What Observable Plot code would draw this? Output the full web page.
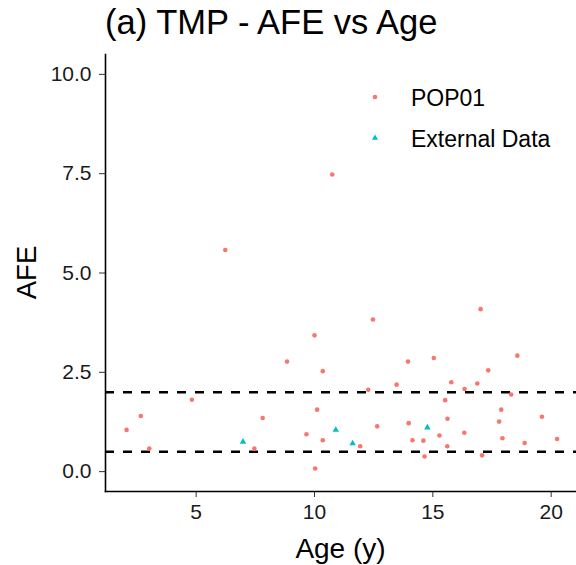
<!DOCTYPE html>
<html>
<head>
<meta charset="utf-8">
<script src="https://cdn.jsdelivr.net/npm/d3@7"></script>
<script src="https://cdn.jsdelivr.net/npm/@observablehq/plot@0.6"></script>
<style>
  html, body { margin: 0; padding: 0; background: white; }
  #chart { position: relative; width: 576px; height: 565px; }
</style>
</head>
<body>
<div id="chart"></div>
<script>
// ---- data ----
const popAge = [2.06, 2.66, 3.02, 4.82, 6.23, 7.46, 7.81, 8.84, 9.66, 10.00, 10.03, 10.11, 10.35, 10.35, 10.75,
  11.93, 12.27, 12.47, 12.65, 13.47, 13.95, 13.98, 14.14, 14.60, 14.65, 15.04, 15.28, 15.52, 15.61, 15.62,
  15.78, 16.33, 16.34, 16.88, 17.02, 17.08, 17.34, 17.80, 17.89, 17.94, 18.31, 18.57, 18.88, 19.61, 20.25];
const popAFE = [1.05, 1.40, 0.58, 1.81, 5.58, 0.58, 1.35, 2.77, 0.94, 3.43, 0.08, 1.56, 2.53, 0.79, 7.48,
  0.64, 2.06, 3.83, 1.14, 2.19, 2.77, 1.22, 0.79, 0.78, 0.38, 2.86, 0.91, 1.80, 0.64, 1.33,
  2.25, 0.98, 2.08, 2.22, 4.09, 0.41, 2.55, 1.26, 1.56, 0.84, 1.94, 2.92, 0.72, 1.38, 0.82];
const extAge = [6.98, 10.90, 11.61, 14.77];
const extAFE = [0.75, 1.05, 0.71, 1.11];
const groups = ["POP01", "External Data"];
const groupColors = ["#F8766D", "#00BFC4"];
const groupSymbols = ["circle", "triangle"];
const xTicks = [5, 10, 15, 20];
const yTicks = [0, 2.5, 5, 7.5, 10];
const refLines = [0.5, 2];
const titleText = "(a) TMP - AFE vs Age";
const xLabel = "Age (y)";
const yLabel = "AFE";

const popRows = popAge.map((a, i) => ({age: a, afe: popAFE[i], group: groups[0]}));
const extRows = extAge.map((a, i) => ({age: a, afe: extAFE[i], group: groups[1]}));

const font = "'Liberation Sans', Arial, sans-serif";

const plot = Plot.plot({
  width: 576,
  height: 565,
  marginTop: 54,
  marginBottom: 74,
  marginLeft: 105,
  marginRight: 0,
  x: {domain: [1.17, 21.07]},
  y: {domain: [-0.5, 10.5]},
  color: {domain: groups, range: groupColors},
  symbol: {domain: groups, range: groupSymbols},
  style: {fontFamily: font, fontSize: "21px", color: "#1a1a1a", background: "white", overflow: "visible"},
  marks: [
    Plot.ruleY(refLines, {stroke: "black", strokeWidth: 2.5, strokeDasharray: "9,9"}),
    Plot.dot(popRows, {x: "age", y: "afe", fill: "group", symbol: "group", r: 2.3, stroke: null}),
    Plot.dot(extRows, {x: "age", y: "afe", fill: "group", symbol: "group", r: 2.4, stroke: null}),
    Plot.axisX({ticks: xTicks, tickSize: 6, tickPadding: 7, label: null, stroke: "#333", fill: "#1a1a1a"}),
    Plot.axisY({ticks: yTicks, tickFormat: d3.format(".1f"), tickSize: 6, tickPadding: 8, label: null, stroke: "#333", fill: "#1a1a1a"}),
    Plot.frame({anchor: "left", stroke: "black", strokeWidth: 1.6}),
    Plot.frame({anchor: "bottom", stroke: "black", strokeWidth: 1.6})
  ]
});

document.getElementById("chart").appendChild(plot);

// ---- titles and legend as text in the same svg ----
const svg = d3.select(plot);
const W = 576, H = 565, mL = 105, mT = 54, mB = 74;

svg.append("text")
  .attr("x", mL).attr("y", 34)
  .attr("text-anchor", "start")
  .attr("font-family", font).attr("font-size", 34.5).attr("fill", "black")
  .text(titleText);

svg.append("text")
  .attr("x", (mL + W) / 2).attr("y", 558)
  .attr("text-anchor", "middle")
  .attr("font-family", font).attr("font-size", 28).attr("fill", "black")
  .text(xLabel);

svg.append("text")
  .attr("transform", `translate(36,${(mT + H - mB) / 2}) rotate(-90)`)
  .attr("text-anchor", "middle")
  .attr("font-family", font).attr("font-size", 27.5).attr("fill", "black")
  .text(yLabel);

// legend
const legendX = 375, legendY0 = 97, legendStep = 41;
const lg = svg.append("g");
groups.forEach((g, i) => {
  const cy = legendY0 + i * legendStep;
  const sym = d3.symbol(groupSymbols[i] === "circle" ? d3.symbolCircle : d3.symbolTriangle, Math.PI * 2.3 * 2.3);
  lg.append("path").attr("d", sym()).attr("transform", `translate(${legendX},${cy})`).attr("fill", groupColors[i]);
  lg.append("text")
    .attr("x", 411).attr("y", cy + 8.5)
    .attr("text-anchor", "start")
    .attr("font-family", font).attr("font-size", 23).attr("fill", "black")
    .text(g);
});
</script>
</body>
</html>
